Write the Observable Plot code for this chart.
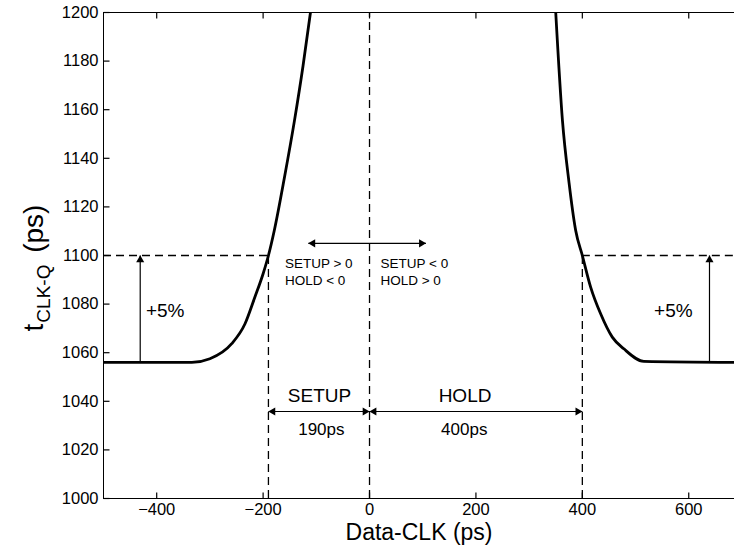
<!DOCTYPE html>
<html><head><meta charset="utf-8">
<script src="https://cdn.jsdelivr.net/npm/d3@7"></script>
<script src="https://cdn.jsdelivr.net/npm/@observablehq/plot@0.6"></script>
<style>body{margin:0;background:#fff;} svg{display:block}</style>
</head><body>
<div id="chart"></div>
<script>
// ---- data ----
const xTicks = [-400, -200, 0, 200, 400, 600];
const yTicks = [1000, 1020, 1040, 1060, 1080, 1100, 1120, 1140, 1160, 1180, 1200];

// setup-side curve (Data-CLK ps, tCLK-Q ps)
const setupX = [-500, -334, -300, -259, -234, -215.6, -200, -190, -179, -160, -141, -125, -111];
const setupY = [1056, 1056, 1057.5, 1063.7, 1071.9, 1082.8, 1092.5, 1100, 1110.3, 1132, 1155.6, 1178, 1200];
// hold-side curve
const holdX = [350, 362.6, 375, 387.5, 400, 415.6, 434.4, 456.3, 478, 515.6, 686];
const holdY = [1200, 1155.6, 1130, 1110.3, 1100, 1087, 1076, 1066.4, 1061.6, 1056.4, 1056];

const limit = 1100;        // +5% level
const base = 1056;         // nominal tCLK-Q
const setupTime = -190;
const holdTime = 400;

const hDash = [{y: limit, x1: -500, x2: setupTime}, {y: limit, x1: holdTime, x2: 686}];
const vDash = [{x: setupTime, y1: 1000, y2: limit}, {x: 0, y1: 1000, y2: 1200}, {x: holdTime, y1: 1000, y2: limit}];

const pctArrowsX = [-431, 639];
const pctLabels = [{x: -384, y: 1077, t: "+5%"}, {x: 571, y: 1077, t: "+5%"}];

const signArrowY = 1105;
const signArrowEnds = [-115, 106];
const signLabelsL = [{x: -159, y: 1096.6, t: "SETUP > 0"}, {x: -159, y: 1089.7, t: "HOLD < 0"}];
const signLabelsR = [{x: 20.6, y: 1096.6, t: "SETUP < 0"}, {x: 20.6, y: 1089.7, t: "HOLD > 0"}];

const dimArrowY = 1035.8;
const dimNames = [{x: -94, y: 1042.4, t: "SETUP"}, {x: 179.5, y: 1042.4, t: "HOLD"}];
const dimValues = [{x: -90.5, y: 1028.3, t: "190ps"}, {x: 178, y: 1028.3, t: "400ps"}];

// ---- layout ----
const W = 734, H = 548, mL = 103, mR = 0, mT = 12, mB = 50;
const pw = W - mL - mR, ph = H - mT - mB;
const xDomain = [-500, 686], yDomain = [1000, 1200];
const dash = "8,5";
const tickLen = 6;

// ---- tables ----
const curve = [
  ...setupX.map((x, i) => ({x, y: setupY[i], s: "setup"})),
  ...holdX.map((x, i) => ({x, y: holdY[i], s: "hold"}))
];
const pctLinks = pctArrowsX.map(x => ({x1: x, x2: x, y1: base, y2: limit}));
const hLinks = [
  {x1: signArrowEnds[0], x2: signArrowEnds[1], y: signArrowY},
  {x1: setupTime, x2: holdTime, y: dimArrowY}
];
const rightHeads = [{x: signArrowEnds[1], y: signArrowY}, {x: 0, y: dimArrowY}, {x: holdTime, y: dimArrowY}];
const leftHeads = [{x: signArrowEnds[0], y: signArrowY}, {x: setupTime, y: dimArrowY}, {x: 0, y: dimArrowY}];
const upHeads = pctArrowsX.map(x => ({x, y: limit}));

// inward tick marks drawn as short link segments offset in pixels
const yTickRows = yTicks.map(y => ({y, x: xDomain[0]}));
const xTickBottom = xTicks.map(x => ({x, y: yDomain[0]}));
const xTickTop = xTicks.map(x => ({x, y: yDomain[1]}));

const plot = Plot.plot({
  width: W, height: H,
  marginLeft: mL, marginRight: mR, marginTop: mT, marginBottom: mB,
  style: {fontFamily: "'Liberation Sans', Arial, Helvetica, sans-serif", background: "#fff", color: "#000"},
  x: {domain: xDomain, label: null},
  y: {domain: yDomain, label: null},
  marks: [
    // frame
    Plot.ruleY(yDomain, {stroke: "#000", strokeWidth: 1}),
    Plot.ruleX([xDomain[0]], {stroke: "#000", strokeWidth: 1}),
    // inward ticks (tickX/tickY styled as short strokes via custom symbols)
    Plot.dot(yTickRows, {x: "x", y: "y", r: tickLen, stroke: "#000", strokeWidth: 1.2,
      symbol: {draw(ctx, size) { ctx.moveTo(0, 0); ctx.lineTo(tickLen, 0); }}}),
    Plot.dot(xTickBottom, {x: "x", y: "y", r: tickLen, stroke: "#000", strokeWidth: 1.2,
      symbol: {draw(ctx, size) { ctx.moveTo(0, 0); ctx.lineTo(0, -tickLen); }}}),
    Plot.dot(xTickTop, {x: "x", y: "y", r: tickLen, stroke: "#000", strokeWidth: 1.2,
      symbol: {draw(ctx, size) { ctx.moveTo(0, 0); ctx.lineTo(0, tickLen); }}}),
    Plot.axisY(yTicks, {tickSize: 0, tickPadding: 5, fontSize: 16.5, label: null, tickFormat: d3.format("d")}),
    Plot.axisX(xTicks, {tickSize: 0, tickPadding: 5, fontSize: 16.5, label: null}),
    // dashed guides
    Plot.ruleY(hDash, {y: "y", x1: "x1", x2: "x2", stroke: "#000", strokeWidth: 1.3, strokeDasharray: dash}),
    Plot.ruleX(vDash, {x: "x", y1: "y1", y2: "y2", stroke: "#000", strokeWidth: 1.3, strokeDasharray: dash}),
    // curves
    Plot.line(curve, {x: "x", y: "y", z: "s", stroke: "#000", strokeWidth: 2.8, curve: "monotone-x", clip: true}),
    // arrows
    Plot.link(pctLinks, {x1: "x1", x2: "x2", y1: "y1", y2: "y2", stroke: "#000", strokeWidth: 1.2}),
    Plot.link(hLinks, {x1: "x1", x2: "x2", y1: "y", y2: "y", stroke: "#000", strokeWidth: 1.2}),
    Plot.dot(rightHeads, {x: "x", y: "y", symbol: "triangle", rotate: 90, r: 3, fill: "#000", dx: -4.5}),
    Plot.dot(leftHeads, {x: "x", y: "y", symbol: "triangle", rotate: -90, r: 3, fill: "#000", dx: 4.5}),
    Plot.dot(upHeads, {x: "x", y: "y", symbol: "triangle", rotate: 0, r: 3, fill: "#000", dy: 4.5}),
    // labels
    Plot.text(pctLabels, {x: "x", y: "y", text: "t", fontSize: 19, textAnchor: "middle", fill: "#000"}),
    Plot.text(signLabelsL, {x: "x", y: "y", text: "t", fontSize: 13.5, textAnchor: "start", fill: "#000"}),
    Plot.text(signLabelsR, {x: "x", y: "y", text: "t", fontSize: 13.5, textAnchor: "start", fill: "#000"}),
    Plot.text(dimNames, {x: "x", y: "y", text: "t", fontSize: 19, textAnchor: "middle", fill: "#000"}),
    Plot.text(dimValues, {x: "x", y: "y", text: "t", fontSize: 17, textAnchor: "middle", fill: "#000"}),
    Plot.text(["Data-CLK (ps)"], {frameAnchor: "bottom", lineAnchor: "middle", text: d => d, dy: 34, fontSize: 23, fill: "#000"})
  ]
});

// y-axis title with subscript
const t = d3.select(plot).append("text")
  .attr("transform", "translate(43,268) rotate(-90)")
  .attr("text-anchor", "middle")
  .attr("font-family", "'Liberation Sans', Arial, sans-serif")
  .attr("font-size", 28)
  .attr("fill", "#000");
t.append("tspan").text("t");
t.append("tspan").attr("font-size", 19).attr("dy", 7).attr("dx", 1).text("CLK-Q");
t.append("tspan").attr("dy", -7).attr("dx", 4).text(" (ps)");

document.getElementById("chart").appendChild(plot);
</script>
</body></html>
